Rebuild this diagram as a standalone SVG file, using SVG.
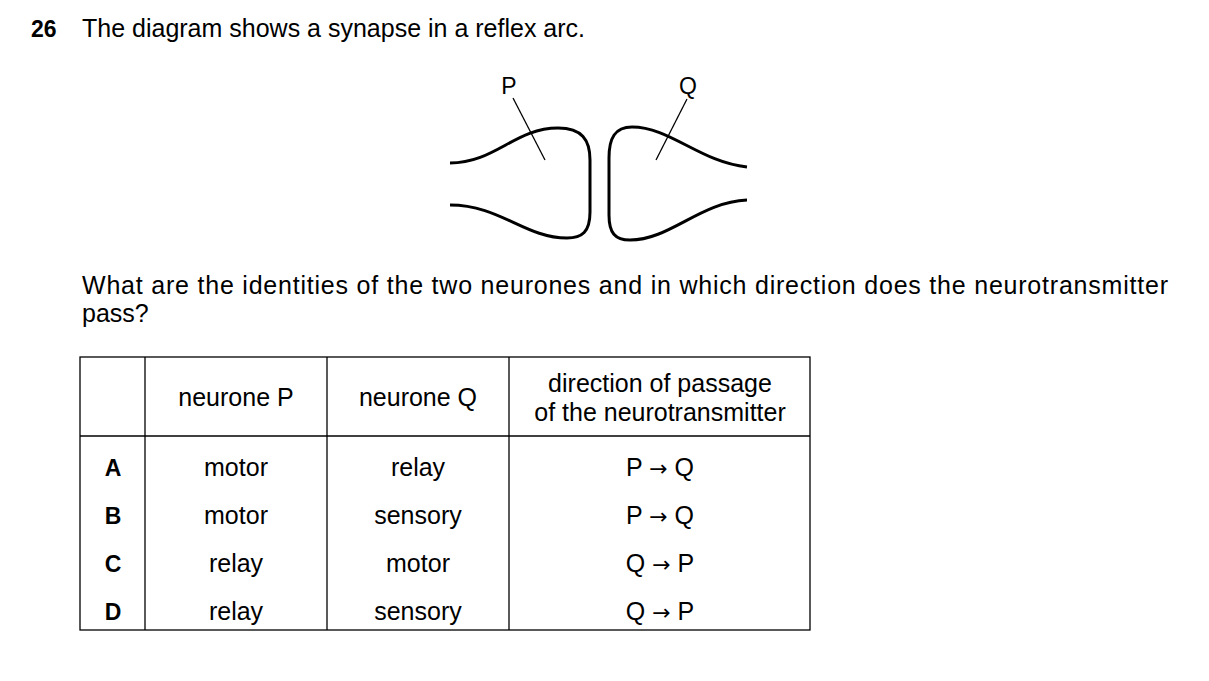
<svg xmlns="http://www.w3.org/2000/svg" width="1209" height="681" viewBox="0 0 1209 681">
<style>
text{font-family:"Liberation Sans",Arial,sans-serif;font-size:25px;fill:#000}
.c{text-anchor:middle}
.b{font-weight:bold;font-size:23px}
.s{font-size:23px}
.a{font-family:"DejaVu Sans",sans-serif;font-size:22px}
.o{fill:none;stroke:#000;stroke-width:3}
.l{stroke:#000;stroke-width:1.3}
.t{fill:none;stroke:#000;stroke-width:1.3}
</style>
<rect width="1209" height="681" fill="#fff"/>
<text x="31" y="37" class="b">26</text>
<text x="82" y="37">The diagram shows a synapse in a reflex arc.</text>
<g id="neuroneP">
<path class="o" d="M450,163 C495,163 515,128 558,128 C582,128 590,140 590,160 L590,212 C590,232 582,238 567,238 C525,238 500,205 450,205"/>
<line class="l" x1="513" y1="98" x2="545" y2="160"/>
<text x="509" y="94" class="c s">P</text>
</g>
<g id="neuroneQ">
<path class="o" d="M747,167 C700,162 670,127 632,127 C615,127 609,138 609,158 L609,215 C609,233 615,240 630,240 C670,240 700,202 747,200"/>
<line class="l" x1="687" y1="99" x2="656" y2="160"/>
<text x="688" y="94" class="c s">Q</text>
</g>
<text x="82" y="294" textLength="1086" lengthAdjust="spacing">What are the identities of the two neurones and in which direction does the neurotransmitter</text>
<text x="82" y="322">pass?</text>
<g id="table">
<rect class="t" x="80" y="357" width="730" height="273"/>
<line class="l" x1="145" y1="357" x2="145" y2="630"/>
<line class="l" x1="327" y1="357" x2="327" y2="630"/>
<line class="l" x1="509" y1="357" x2="509" y2="630"/>
<line class="l" x1="80" y1="436" x2="810" y2="436"/>
<text x="236" y="406" class="c">neurone P</text>
<text x="418" y="406" class="c">neurone Q</text>
<text x="660" y="392" class="c">direction of passage</text>
<text x="660" y="421" class="c">of the neurotransmitter</text>
<text x="113" y="476" class="c b">A</text><text x="236" y="476" class="c">motor</text><text x="418" y="476" class="c">relay</text><text x="660" y="476" class="c">P <tspan class="a">→</tspan> Q</text>
<text x="113" y="524" class="c b">B</text><text x="236" y="524" class="c">motor</text><text x="418" y="524" class="c">sensory</text><text x="660" y="524" class="c">P <tspan class="a">→</tspan> Q</text>
<text x="113" y="572" class="c b">C</text><text x="236" y="572" class="c">relay</text><text x="418" y="572" class="c">motor</text><text x="660" y="572" class="c">Q <tspan class="a">→</tspan> P</text>
<text x="113" y="620" class="c b">D</text><text x="236" y="620" class="c">relay</text><text x="418" y="620" class="c">sensory</text><text x="660" y="620" class="c">Q <tspan class="a">→</tspan> P</text>
</g>
</svg>
